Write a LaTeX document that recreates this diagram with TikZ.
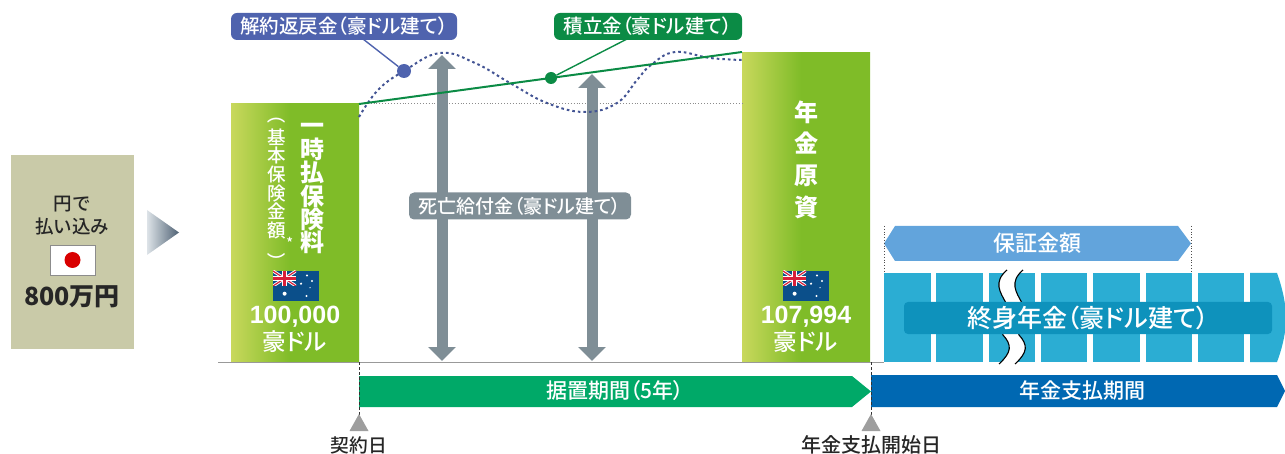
\documentclass[tikz,border=0pt]{standalone}
\usepackage{graphicx}
\usepackage{fontspec}
\setmainfont[RawFeature={+palt}]{Noto Sans CJK JP Medium}
\newfontfamily\medfont{Noto Sans CJK JP Medium}
\newfontfamily\numfont{Liberation Sans}
\usetikzlibrary{arrows.meta}

\definecolor{paybox}{HTML}{C9CAA8}
\definecolor{barlight}{HTML}{C8D85C}
\definecolor{bargreen}{HTML}{7FBC28}
\definecolor{cashblue}{HTML}{4F63AE}
\definecolor{fundgreen}{HTML}{0B8B45}
\definecolor{deathgray}{HTML}{7F8E96}
\definecolor{deferred}{HTML}{00A968}
\definecolor{payperiod}{HTML}{0068B2}
\definecolor{guarantee}{HTML}{62A4DC}
\definecolor{annuity}{HTML}{2BADD3}
\definecolor{annuitybar}{HTML}{0E92BC}
\definecolor{flagblue}{HTML}{0B4F8A}
\definecolor{flagred}{HTML}{D8203A}
\definecolor{hintlight}{HTML}{DDE3E8}
\definecolor{hintdark}{HTML}{4F6274}

\pgfdeclarehorizontalshading{barshade}{100bp}{color(0bp)=(barlight); color(25bp)=(barlight); color(48bp)=(bargreen); color(100bp)=(bargreen)}
\pgfdeclarehorizontalshading{hintshade}{100bp}{color(0bp)=(hintlight); color(25bp)=(hintlight); color(75bp)=(hintdark); color(100bp)=(hintdark)}

\tikzset{
  sz/.style={font=\fontsize{#1}{#1}\selectfont},
  szb/.style={font=\fontsize{#1}{#1}\selectfont\bfseries},
  szm/.style={font=\fontsize{#1}{#1}\selectfont\medfont},
  tag/.style={rounded corners=6pt,inner sep=0pt,text=white},
  lumpbar/.style={shading=barshade,minimum width=128pt,inner sep=0pt,anchor=north west},
  bigarrow/.style={deathgray,line width=11pt,{Triangle[width=27pt,length=14pt]}-{Triangle[width=27pt,length=14pt]}},
  ausflag/.pic={
    \fill[flagblue] (0,0) rectangle (46,30);
    \begin{scope}
      \clip (0,0) rectangle (23,15);
      \draw[white,line width=3pt] (0,0) -- (23,15) (0,15) -- (23,0);
      \draw[flagred,line width=1.2pt] (0,0) -- (23,15) (0,15) -- (23,0);
      \draw[white,line width=5pt] (11.5,0) -- (11.5,15) (0,7.5) -- (23,7.5);
      \draw[flagred,line width=3pt] (11.5,0) -- (11.5,15) (0,7.5) -- (23,7.5);
    \end{scope}
    \fill[white] (11.6,22.7) circle (2pt) (34,4.5) circle (1.2pt) (39,10) circle (1.2pt)
      (28,12.7) circle (1.2pt) (33.5,25) circle (1.2pt) (37,16.7) circle (.7pt);
  }
}

\begin{document}
\begin{tikzpicture}[x=1pt,y=-1pt]
\useasboundingbox (0,0) rectangle (1285,454);

% yen payment
\node (paybox) [fill=paybox,minimum width=123pt,minimum height=194pt,inner sep=0pt] at (72.5,252) {};
\node (paytext) [align=center,text=black!85,font=\fontsize{18.5}{23.5}\selectfont\medfont,inner sep=0pt] at (72,215.5) {円で\\払い込み};
\node (jpflag) [fill=white,draw=black!45,minimum width=45pt,minimum height=30pt,inner sep=0pt] at (72.5,260) {};
\node (jpsun) [fill=red!85!black,circle,minimum size=16pt,inner sep=0pt] at (jpflag.center) {};
\node (payamount) [szb=25,text=black!85] at (72,297) {800万円};
\shade[shading=hintshade] (147,210) -- (179,232.5) -- (147,255) -- cycle;

% green bars
\node (lumpsum) [lumpbar,minimum height=259pt] at (231,103) {};
\node (capital) [lumpbar,minimum height=310pt] at (742,52) {};

% reference lines and curves
\coordinate (baseleft) at (218,362);
\coordinate (baseright) at (884,362);
\draw[black!40,line width=1pt] (baseleft) -- (baseright);
\coordinate (levelleft) at (359,103);
\coordinate (levelright) at (742,103);
\draw[black!45,line width=.9pt,dotted] (levelleft) -- (levelright);

\coordinate (deathAtop) at (442,55);
\coordinate (deathAbot) at (442,361);
\coordinate (deathBtop) at (592,74);
\coordinate (deathBbot) at (592,361);
\draw[bigarrow] (deathAtop) -- (deathAbot);
\draw[bigarrow] (deathBtop) -- (deathBbot);

\draw[cashblue!85!black,line width=2pt,dash pattern=on 2.6pt off 3pt] plot[smooth,tension=.7] coordinates {(359,117) (378,90) (404,71) (440,53) (475,63) (510,83) (547,103) (585,112) (617,103) (637,80) (651,65) (675,52) (710,58) (742,60)};
\coordinate (fundstart) at (359,104);
\coordinate (fundend) at (742,52);
\draw[fundgreen,line width=2pt] (fundstart) -- (fundend);

% top tags
\node (cashtag) [tag,fill=cashblue,sz=19.5,minimum width=226pt,minimum height=27pt] at (344,26.5) {解約返戻金（豪ドル建て）};
\node (fundtag) [tag,fill=fundgreen,sz=19.5,minimum width=188pt,minimum height=27pt] at (648,26.5) {積立金（豪ドル建て）};
\node (cashdot) [fill=cashblue,circle,minimum size=14pt,inner sep=0pt] at (404,71) {};
\node (funddot) [fill=fundgreen,circle,minimum size=12pt,inner sep=0pt] at (551,78) {};
\coordinate (cashfoot) at (363,39);
\coordinate (fundfoot) at (627,39);
\draw[cashblue,line width=1.4pt] (cashfoot) -- (cashdot);
\draw[fundgreen,line width=1.4pt] (fundfoot) -- (funddot);
\node (deathtag) [tag,fill=deathgray,sz=19,minimum width=222pt,minimum height=27pt,rounded corners=5pt] at (520,206) {死亡給付金（豪ドル建て）};

% text in bars
\node (lumptitle) [align=center,text=white,inner sep=0pt,font=\fontsize{24}{23.4}\selectfont\bfseries] at (312,189) {一\\時\\払\\保\\険\\料};
\node (lumpnote) [align=center,text=white,inner sep=0pt,font=\fontsize{18.5}{18.6}\selectfont] at (277,189.5) {\rotatebox[origin=c]{-90}{（}\\基\\本\\保\\険\\金\\額\rlap{\raisebox{-11pt}{\fontsize{14}{14}\selectfont *}}\\[4pt]\rotatebox[origin=c]{-90}{）}};
\pic (lumpflag) at (273,271) {ausflag};
\node (lumpusd) [szb=25,text=white] at (295,317) {\numfont 100,000};
\node (lumpunit) [sz=23.5,text=white] at (295,342) {豪ドル};

\node (capitaltitle) [align=center,text=white,inner sep=0pt,font=\fontsize{24}{31.7}\selectfont\bfseries] at (806,159.5) {年\\金\\原\\資};
\pic (capitalflag) at (783,271) {ausflag};
\node (capitalusd) [szb=25,text=white] at (806,317) {\numfont 107,994};
\node (capitalunit) [sz=23.5,text=white] at (806,342) {豪ドル};

% annuity blocks
\foreach \blockx in {884,936.3,988.6,1040.9,1093.2,1145.5,1197.8}
  \fill[annuity] (\blockx,273) rectangle (\blockx+46.5,362);
\fill[annuity] (1250,273) -- (1277,273) .. controls (1283,290) and (1286,305) .. (1286,318) .. controls (1286,331) and (1283,346) .. (1277,362) -- (1250,362) -- cycle;

\fill[white] (1007,270) .. controls (993,282) and (1000,292) .. (1006,303) .. controls (1008,318) and (998,325) .. (1003,335) .. controls (1012,345) and (1012,352) .. (999,364)
  -- (1015,364) .. controls (1028,352) and (1028,345) .. (1019,335) .. controls (1014,325) and (1024,318) .. (1022,303) .. controls (1016,292) and (1009,282) .. (1023,270) -- cycle;
\draw[black,line width=1.1pt] (1007,270) .. controls (993,282) and (1000,292) .. (1006,303) .. controls (1008,318) and (998,325) .. (1003,335) .. controls (1012,345) and (1012,352) .. (999,364);
\draw[black,line width=1.1pt] (1023,270) .. controls (1009,282) and (1016,292) .. (1022,303) .. controls (1024,318) and (1014,325) .. (1019,335) .. controls (1028,345) and (1028,352) .. (1015,364);

\node (annuitybar) [tag,fill=annuitybar,sz=25,minimum width=368pt,minimum height=32pt,rounded corners=4pt] at (1088,318) {終身年金（豪ドル建て）};

% guaranteed span
\fill[guarantee] (884,243.5) -- (895,226) -- (1178,226) -- (1191,243.5) -- (1178,261) -- (895,261) -- cycle;
\node (guaranteetext) [sz=22,text=white] at (1037,243.5) {保証金額};
\coordinate (guarLtop) at (884,226);
\coordinate (guarLbot) at (884,272);
\coordinate (guarRtop) at (1191,226);
\coordinate (guarRbot) at (1191,272);
\draw[black!70,line width=.8pt,dotted] (guarLtop) -- (guarLbot);
\draw[black!70,line width=.8pt,dotted] (guarRtop) -- (guarRbot);

% period bars
\fill[deferred] (359,376) -- (852,376) -- (871,391.5) -- (852,407) -- (359,407) -- cycle;
\node (deferredtext) [sz=21,text=white] at (615,391) {据置期間（5年）};
\fill[payperiod] (871,375) -- (1277,375) -- (1285,391) -- (1277,407) -- (871,407) -- cycle;
\node (paytitle) [szm=21,text=white] at (1082,391) {年金支払期間};

% contract and start marks
\coordinate (startbase) at (359,362);
\coordinate (startmark) at (359,415);
\coordinate (paybase) at (871,362);
\coordinate (paymark) at (871,415);
\draw[black!80,line width=.7pt,dash pattern=on 3pt off 2pt] (startbase) -- (startmark);
\draw[black!80,line width=.7pt,dash pattern=on 3pt off 2pt] (paybase) -- (paymark);
\fill[black!38] (359,414) -- (368.5,431) -- (349.5,431) -- cycle;
\fill[black!38] (871,414) -- (880.5,431) -- (861.5,431) -- cycle;
\node (startlabel) [sz=18.7,text=black!85,inner sep=0pt] at (359,445) {契約日};
\node (paylabel) [sz=20,text=black!85,inner sep=0pt] at (871,445) {年金支払開始日};
\end{tikzpicture}
\end{document}
